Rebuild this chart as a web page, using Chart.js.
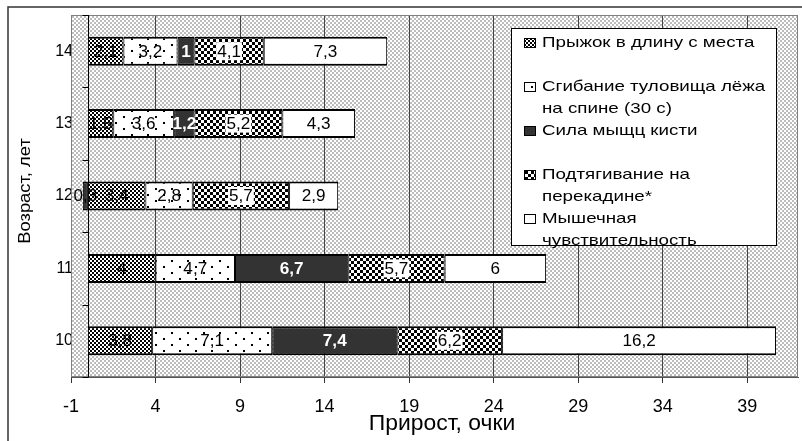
<!DOCTYPE html>
<html>
<head>
<meta charset="utf-8">
<script src="https://cdn.jsdelivr.net/npm/chart.js@4/dist/chart.umd.min.js"></script>
<style>
  html, body { margin: 0; padding: 0; background: #fff; }
  #wrap { width: 802px; height: 441px; }
</style>
</head>
<body>
<div id="wrap"><canvas id="chart" width="802" height="441"></canvas></div>
<script>
const ages = ["10", "11", "12", "13", "14"];
const jump = [3.8, 4, 3.4, 1.5, 2.1];
const situps = [7.1, 4.7, 2.8, 3.6, 3.2];
const grip = [7.4, 6.7, -0.3, 1.2, 1];
const pullups = [6.2, 5.7, 5.7, 5.2, 4.1];
const sensitivity = [16.2, 6, 2.9, 4.3, 7.3];
const xTicks = [-1, 4, 9, 14, 19, 24, 29, 34, 39];
const seriesNames = [
  ["Прыжок в длину с места"],
  ["Сгибание туловища лёжа", "на спине (30 с)"],
  ["Сила мыщц кисти"],
  ["Подтягивание на", "перекадине*"],
  ["Мышечная", "чувствительность"],
];

const font = "'Liberation Sans', Arial, sans-serif";

function makePattern(w, h, bg, fg, cells) {
  const c = document.createElement("canvas");
  c.width = w;
  c.height = h;
  const g = c.getContext("2d");
  g.fillStyle = bg;
  g.fillRect(0, 0, w, h);
  g.fillStyle = fg;
  cells.forEach(([x, y, cw, ch]) => g.fillRect(x, y, cw, ch));
  return g.createPattern(c, "repeat");
}

const pat = {
  bg: makePattern(4, 4, "#ffffff", "#bcbcbc", [[0, 0, 2, 2], [2, 2, 2, 2]]),
  fine: makePattern(4, 4, "#ffffff", "#000000", [[0, 0, 2, 2], [2, 2, 2, 2]]),
  coarse: makePattern(6, 6, "#ffffff", "#000000", [[0, 0, 3, 3], [3, 3, 3, 3]]),
  dots: makePattern(16, 12, "#ffffff", "#000000", [[3, 2, 2, 2], [11, 8, 2, 2]]),
};

const fills = [pat.fine, pat.dots, "#333333", pat.coarse, "#ffffff"];
const values = [jump, situps, grip, pullups, sensitivity];

// the source shows labels without a minus sign
const fmt = (v) => String(Math.abs(v)).replace(".", ",");

// text in the source is stretched unevenly, so draw it scaled
function stretchText(ctx, text, x, y, sx, rot) {
  ctx.save();
  ctx.translate(x, y);
  if (rot) ctx.rotate(rot);
  ctx.scale(sx, 1);
  ctx.fillText(text, 0, 0);
  ctx.restore();
}

const decor = {
  id: "decor",
  beforeDraw(chart) {
    const { ctx, chartArea: a } = chart;
    ctx.save();
    ctx.fillStyle = pat.bg;
    ctx.fillRect(a.left, a.top, a.right - a.left, a.bottom - a.top);
    ctx.strokeStyle = "#333";
    ctx.lineWidth = 1.5;
    ctx.strokeRect(8, 7, 830, 470);
    ctx.restore();
  },
  beforeDatasetsDraw(chart) {
    const { ctx, chartArea: a, scales } = chart;
    ctx.save();
    ctx.strokeStyle = "#808080";
    ctx.lineWidth = 1;
    ctx.strokeRect(a.left + 0.5, a.top + 0.5, a.right - a.left - 1, a.bottom - a.top - 1);
    // category axis crosses at zero
    const x0 = Math.round(scales.x.getPixelForValue(0)) + 0.5;
    ctx.strokeStyle = "#000";
    ctx.beginPath();
    ctx.moveTo(x0, a.top);
    ctx.lineTo(x0, a.bottom);
    for (let i = 0; i <= ages.length; i++) {
      const y = Math.round(scales.y.getPixelForValue(i - 0.5)) + 0.5;
      ctx.moveTo(x0 - 6, y);
      ctx.lineTo(x0, y);
    }
    ctx.stroke();
    ctx.restore();
  },
  afterDatasetsDraw(chart) {
    const { ctx } = chart;
    ctx.save();
    ctx.textAlign = "center";
    ctx.textBaseline = "middle";
    chart.data.datasets.forEach((ds, di) => {
      chart.getDatasetMeta(di).data.forEach((bar, i) => {
        const v = ds.data[i];
        const cx = (bar.x + bar.base) / 2;
        const dark = di === 2 && v > 0;
        ctx.font = (dark ? "bold " : "") + "16px " + font;
        const t = fmt(v);
        if (di === 3) {
          const w = ctx.measureText(t).width * 1.07;
          ctx.fillStyle = "#fff";
          ctx.fillRect(cx - w / 2 - 1, bar.y - 9, w + 2, 18);
        }
        ctx.fillStyle = dark ? "#fff" : "#000";
        stretchText(ctx, t, cx, bar.y + 1, 1.07);
      });
    });
    ctx.restore();
  },
  afterDraw(chart) {
    const { ctx } = chart;
    ctx.save();
    // axis titles
    ctx.fillStyle = "#000";
    ctx.textAlign = "center";
    ctx.textBaseline = "middle";
    ctx.font = "22px " + font;
    stretchText(ctx, "Прирост, очки", 442, 424, 1.04);
    ctx.font = "17px " + font;
    stretchText(ctx, "Возраст, лет", 25, 191, 1.08, -Math.PI / 2);

    // legend
    ctx.fillStyle = "#fff";
    ctx.fillRect(511, 28, 266, 218);
    ctx.strokeStyle = "#000";
    ctx.lineWidth = 1;
    ctx.strokeRect(511.5, 28.5, 265, 217);
    ctx.font = "15px " + font;
    ctx.textAlign = "left";
    chart.data.datasets.forEach((ds, di) => {
      const y = 43 + di * 44;
      ctx.fillStyle = ds.backgroundColor;
      ctx.fillRect(524, y - 5, 12, 10);
      ctx.strokeStyle = "#000";
      ctx.strokeRect(524.5, y - 4.5, 11, 9);
      ctx.fillStyle = "#000";
      ds.label.forEach((line, li) => stretchText(ctx, line, 542, y + li * 22, 1.25));
    });
    ctx.restore();
  },
};

new Chart(document.getElementById("chart"), {
  type: "bar",
  data: {
    labels: ages,
    datasets: values.map((vals, i) => ({
      label: seriesNames[i],
      data: vals,
      backgroundColor: fills[i],
      borderColor: "#000",
      borderWidth: { top: 2, bottom: 2, left: 1, right: 1 },
      borderSkipped: false,
      categoryPercentage: 1,
      barPercentage: 0.4,
    })),
  },
  options: {
    indexAxis: "y",
    responsive: false,
    animation: false,
    devicePixelRatio: 1,
    layout: { padding: { top: 15, right: 4, left: 0, bottom: 0 } },
    plugins: { legend: { display: false }, tooltip: { enabled: false } },
    scales: {
      x: {
        type: "linear",
        stacked: true,
        min: -1,
        max: 42,
        afterBuildTicks: (s) => { s.ticks = xTicks.map((v) => ({ value: v })); },
        afterFit: (s) => { s.height = 64; },
        grid: { color: "#444", lineWidth: 1, tickLength: 6, tickColor: "#333" },
        border: { display: true, color: "#555" },
        ticks: { color: "#000", padding: 13, font: { family: font, size: 18 }, callback: (v) => String(v) },
      },
      y: {
        stacked: true,
        reverse: true,
        afterFit: (s) => { s.width = 71; },
        grid: { display: false, drawTicks: false },
        border: { display: false },
        ticks: { color: "#000", padding: -2, font: { family: font, size: 16 } },
      },
    },
  },
  plugins: [decor],
});
</script>
</body>
</html>
